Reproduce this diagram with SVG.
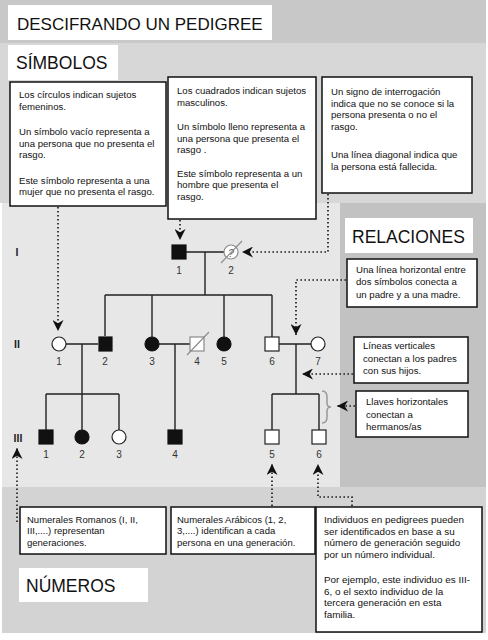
<svg xmlns="http://www.w3.org/2000/svg" width="488" height="640" viewBox="0 0 488 640">
<style>
.head{font-family:"Liberation Sans",Arial,sans-serif;font-size:17.5px;fill:#111}
.box{fill:#fff;stroke:#111;stroke-width:1.5}
.hbox{fill:#fff;stroke:none}
.t{font-family:"Liberation Sans",Arial,sans-serif;font-size:9.6px;fill:#111}
.tb{font-family:"Liberation Sans",Arial,sans-serif;font-size:9.5px;fill:#111}
.num{font-family:"Liberation Sans",Arial,sans-serif;font-size:10px;fill:#333;text-anchor:middle}
.gen{font-family:"Liberation Sans",Arial,sans-serif;font-size:10.5px;font-weight:bold;fill:#222;text-anchor:middle}
.ln{stroke:#222;stroke-width:1.4;fill:none}
.dot{stroke:#222;stroke-width:1.7;fill:none;stroke-dasharray:1.6 2.4;marker-end:url(#arr)}
.aff{fill:#111;stroke:#111;stroke-width:1.2}
.un{fill:#fff;stroke:#222;stroke-width:1.2}
.gr{fill:#fff;stroke:#8a8a8a;stroke-width:1.2}
</style>
<defs>
<marker id="arr" markerUnits="userSpaceOnUse" markerWidth="11" markerHeight="11" refX="10" refY="5" orient="auto" viewBox="0 0 10 10">
<path d="M0,0 L10,5 L0,10 L3,5 z" fill="#111"/>
</marker>
</defs>
<!-- backgrounds -->
<rect x="0" y="0" width="488" height="640" fill="#fff"/>
<rect x="0" y="0" width="486" height="43" fill="#c8c8c8"/>
<rect x="0" y="43" width="486" height="160" fill="#d7d7d7"/>
<rect x="2" y="203" width="338" height="284" fill="#e7e7e7"/>
<rect x="340" y="203" width="146" height="284" fill="#c2c2c2"/>
<rect x="2" y="487" width="484" height="146" fill="#d3d3d3"/>

<!-- headings -->
<g id="title">
<rect class="hbox" x="8" y="5" width="264" height="35"/>
<text class="head" x="17" y="29.5" style="font-size:17px">DESCIFRANDO UN PEDIGREE</text>
</g>
<g id="simbolos">
<rect class="hbox" x="8" y="45" width="110" height="35"/>
<text class="head" x="16" y="68.5">SÍMBOLOS</text>
</g>
<g id="relaciones">
<rect class="hbox" x="345" y="218" width="128" height="35"/>
<text class="head" x="352" y="242.5">RELACIONES</text>
</g>
<g id="numeros">
<rect class="hbox" x="19" y="568" width="129" height="34"/>
<text class="head" x="26" y="591.5">NÚMEROS</text>
</g>

<!-- symbol boxes -->
<g id="box-circulos">
<rect class="box" x="10" y="82" width="156" height="124"/>
<text class="t"><tspan x="19" y="98">Los círculos indican sujetos</tspan><tspan x="19" y="109.5">femeninos.</tspan><tspan x="19" y="135">Un símbolo vacío representa a</tspan><tspan x="19" y="146.5">una persona que no presenta el</tspan><tspan x="19" y="158">rasgo.</tspan><tspan x="19" y="183.5">Este símbolo representa a una</tspan><tspan x="19" y="195">mujer que no presenta el rasgo.</tspan></text>
</g>
<g id="box-cuadrados">
<rect class="box" x="168" y="77" width="148" height="142"/>
<text class="t"><tspan x="177" y="94">Los cuadrados indican sujetos</tspan><tspan x="177" y="105.5">masculinos.</tspan><tspan x="177" y="130">Un símbolo lleno representa a</tspan><tspan x="177" y="141.5">una persona que presenta el</tspan><tspan x="177" y="153">rasgo .</tspan><tspan x="177" y="176.5">Este símbolo representa a un</tspan><tspan x="177" y="188">hombre que presenta el</tspan><tspan x="177" y="199.5">rasgo.</tspan></text>
</g>
<g id="box-interrogacion">
<rect class="box" x="322" y="77" width="150" height="116"/>
<text class="t"><tspan x="331" y="95">Un signo de interrogación</tspan><tspan x="331" y="106.5">indica que no se conoce si la</tspan><tspan x="331" y="118">persona presenta o no el</tspan><tspan x="331" y="129.5">rasgo.</tspan><tspan x="331" y="158">Una línea diagonal indica que</tspan><tspan x="331" y="169.5">la persona está fallecida.</tspan></text>
</g>

<!-- relation boxes -->
<g id="box-horizontal">
<rect class="box" x="347" y="259" width="130" height="48"/>
<text class="t"><tspan x="356" y="272.5">Una línea horizontal entre</tspan><tspan x="356" y="285">dos símbolos conecta a</tspan><tspan x="356" y="297.5">un padre y a una madre.</tspan></text>
</g>
<g id="box-verticales">
<rect class="box" x="354" y="337" width="114" height="46"/>
<text class="t"><tspan x="363" y="349">Líneas verticales</tspan><tspan x="363" y="361.5">conectan a los padres</tspan><tspan x="363" y="374">con sus hijos.</tspan></text>
</g>
<g id="box-llaves">
<rect class="box" x="356" y="391" width="112" height="46"/>
<text class="t"><tspan x="366" y="405">Llaves horizontales</tspan><tspan x="366" y="417.5">conectan a</tspan><tspan x="366" y="430">hermanos/as</tspan></text>
</g>

<!-- number boxes -->
<g id="box-romanos">
<rect class="box" x="20" y="507" width="146" height="47"/>
<text class="tb"><tspan x="27" y="522.5">Numerales Romanos (I, II,</tspan><tspan x="27" y="534">III,....) representan</tspan><tspan x="27" y="545.5">generaciones.</tspan></text>
</g>
<g id="box-arabicos">
<rect class="box" x="171" y="507" width="144" height="47"/>
<text class="tb"><tspan x="177" y="522.5">Numerales Arábicos (1, 2,</tspan><tspan x="177" y="534">3,....) identifican a cada</tspan><tspan x="177" y="545.5">persona en una generación.</tspan></text>
</g>
<g id="box-individuos">
<rect class="box" x="316" y="507" width="166" height="125"/>
<text class="tb" style="font-size:9.9px"><tspan x="324" y="523">Individuos en pedigrees pueden</tspan><tspan x="324" y="534.5">ser identificados en base a su</tspan><tspan x="324" y="546">número de generación  seguido</tspan><tspan x="324" y="557.5">por un número individual.</tspan><tspan x="324" y="583">Por ejemplo, este individuo es III-</tspan><tspan x="324" y="594.5">6, o el sexto individuo de la</tspan><tspan x="324" y="606">tercera generación  en esta</tspan><tspan x="324" y="617.5">familia.</tspan></text>
</g>

<!-- pedigree lines -->
<g id="pedigree-lines">
<path class="ln" d="M186,252 H224 M205,252 V295 M105,295 H272 M105,295 V336 M152,295 V337 M224,295 V337 M272,295 V337"/>
<path class="ln" d="M66,344 H98 M82,344 V394 M46,394 H119 M46,394 V430 M82,394 V430 M119,394 V430"/>
<path class="ln" d="M159,344 H190 M175,344 V430"/>
<path class="ln" d="M279,344 H311 M296,344 V394 M272,394 H319 M272,394 V430 M319,394 V430"/>
<path d="M322,391 Q327,391 327,397 L327,403 Q327,407 331,407 Q327,407 327,411 L327,417 Q327,423 322,423" fill="none" stroke="#999" stroke-width="1.5"/>
</g>

<!-- generation labels -->
<g id="gen-labels">
<text class="gen" x="17" y="256">I</text>
<text class="gen" x="17" y="348">II</text>
<text class="gen" x="18" y="442">III</text>
</g>

<!-- individuals -->
<g id="I-1"><rect class="aff" x="172" y="245" width="14" height="14"/><text class="num" x="179" y="274">1</text></g>
<g id="I-2"><circle class="gr" cx="231" cy="252" r="7"/><text x="231" y="256.5" text-anchor="middle" style="font-family:'Liberation Sans',Arial,sans-serif;font-size:11px;font-style:italic;fill:#666">?</text><line x1="221" y1="263" x2="242" y2="241" stroke="#8a8a8a" stroke-width="1.1"/><text class="num" x="231" y="274">2</text></g>

<g id="II-1"><circle class="un" cx="59" cy="344" r="7"/><text class="num" x="59" y="365">1</text></g>
<g id="II-2"><rect class="aff" x="99" y="337" width="13" height="14"/><text class="num" x="105" y="365">2</text></g>
<g id="II-3"><circle class="aff" cx="152" cy="344" r="7"/><text class="num" x="152" y="365">3</text></g>
<g id="II-4"><rect class="gr" x="190" y="337" width="14" height="14"/><line x1="187" y1="355" x2="209" y2="332" stroke="#8a8a8a" stroke-width="1.1"/><text class="num" x="197" y="365">4</text></g>
<g id="II-5"><circle class="aff" cx="224" cy="344" r="7"/><text class="num" x="224" y="365">5</text></g>
<g id="II-6"><rect class="un" x="265" y="337" width="14" height="14"/><text class="num" x="272" y="365">6</text></g>
<g id="II-7"><circle class="un" cx="318" cy="344" r="7"/><text class="num" x="318" y="365">7</text></g>

<g id="III-1"><rect class="aff" x="39" y="430" width="14" height="14"/><text class="num" x="46" y="458">1</text></g>
<g id="III-2"><circle class="aff" cx="82" cy="437" r="7"/><text class="num" x="82" y="458">2</text></g>
<g id="III-3"><circle class="un" cx="119" cy="437" r="7"/><text class="num" x="119" y="458">3</text></g>
<g id="III-4"><rect class="aff" x="168" y="430" width="14" height="14"/><text class="num" x="175" y="458">4</text></g>
<g id="III-5"><rect class="un" x="265" y="430" width="14" height="14"/><text class="num" x="272" y="458">5</text></g>
<g id="III-6"><rect class="un" x="312" y="430" width="14" height="14"/><text class="num" x="319" y="458">6</text></g>

<!-- dotted connectors -->
<g id="connectors">
<path class="dot" d="M58,207 V331"/>
<path class="dot" d="M180,220 V240"/>
<path class="dot" d="M328,194 V252 H242"/>
<path class="dot" d="M346,280 H296 V335"/>
<path class="dot" d="M353,374 H302"/>
<path class="dot" d="M355,406 H337"/>
<path class="dot" d="M17,522 V448"/>
<path class="dot" d="M272,506 V464"/>
<path class="dot" d="M352,506 V497 H318 V464"/>
</g>
</svg>
